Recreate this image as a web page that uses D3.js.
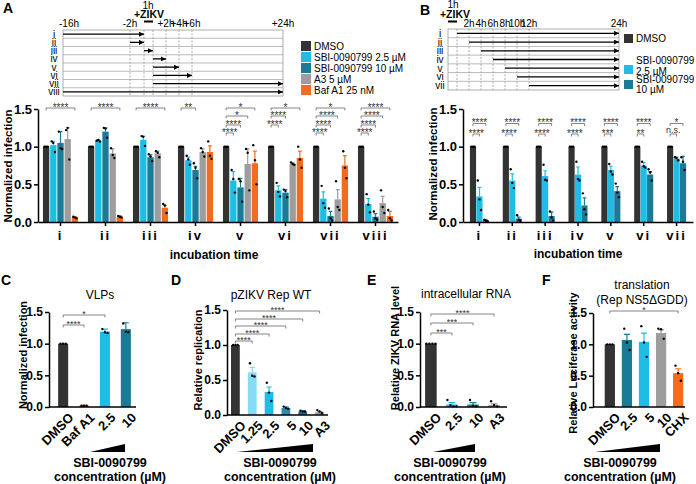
<!DOCTYPE html>
<html>
<head>
<meta charset="utf-8">
<script src="https://cdn.jsdelivr.net/npm/d3@7"></script>
<style>
body{margin:0;background:#fff}
svg{font-family:"Liberation Sans",Arial,sans-serif}
</style>
</head>
<body>
<svg width="696" height="484"></svg>
<script>
// ---- data ----
const groupsA = ["i","ii","iii","iv","v","vi","vii","viii"];
const treatA = ["DMSO","SBI-0090799 2.5 µM","SBI-0090799 10 µM","A3 5 µM","Baf A1 25 nM"];
const meanA = [
  [1,1.02,1.05,1.10,0.06],
  [1,1.08,1.20,0.91,0.07],
  [1,1.09,0.86,0.91,0.19],
  [1,0.82,0.69,0.93,0.93],
  [1,0.55,0.46,0.77,0.78],
  [1,0.42,0.39,0.77,0.85],
  [1,0.31,0.08,0.30,0.75],
  [1,0.24,0.07,0.25,0.08]];
const errA = [
  [0,0.05,0.15,0.15,0.01],
  [0,0.01,0.05,0.06,0.01],
  [0,0.05,0.03,0.03,0.03],
  [0,0.04,0.05,0.04,0.08],
  [0,0.12,0.12,0.20,0.16],
  [0,0.06,0.04,0.02,0.09],
  [0,0.09,0.06,0.13,0.13],
  [0,0.07,0.04,0.09,0.06]];
const ptsA = [
  [[1,1,1],[1.07,1.05,0.93],[1.20,0.98,0.97],[1.22,1.25,0.83],[0.07,0.06,0.05]],
  [[1,1,1],[1.08,1.09,1.07],[1.25,1.24,1.12],[0.98,0.89,0.85],[0.08,0.07,0.06]],
  [[1,1,1],[1.14,1.13,1.01],[0.90,0.87,0.81],[0.94,0.92,0.86],[0.24,0.22,0.12]],
  [[1,1,1],[0.88,0.83,0.76],[0.78,0.72,0.58],[0.98,0.93,0.87],[1.07,0.88,0.84]],
  [[1,1,1],[0.69,0.57,0.39],[0.57,0.54,0.27],[0.97,0.92,0.42],[1.02,0.82,0.50]],
  [[1,1,1],[0.52,0.40,0.34],[0.43,0.41,0.33],[0.79,0.77,0.76],[1.00,0.83,0.72]],
  [[1,1,1],[0.48,0.25,0.19],[0.18,0.05,0.02],[0.54,0.20,0.16],[0.94,0.72,0.58]],
  [[1,1,1],[0.37,0.23,0.13],[0.14,0.05,0.03],[0.42,0.20,0.12],[0.16,0.05,0.02]]];
// [group, target treatment, level, label]
const sigA = [
  [0,4,3,"****"],[1,4,3,"****"],[2,4,3,"****"],[3,2,3,"**"],
  [4,1,0,"****"],[4,2,1,"****"],[4,3,2,"*"],[4,4,3,"*"],
  [5,1,1,"****"],[5,2,2,"****"],[5,4,3,"*"],
  [6,1,0,"****"],[6,2,1,"****"],[6,3,2,"****"],[6,4,3,"*"],
  [7,1,0,"****"],[7,2,1,"****"],[7,3,2,"****"],[7,4,3,"****"]];
// timeline A (hours, schematic)
const tBreaksA = [-16,-2,0,1,3,5,7,25];
const tDashA = [-2,0,1,3,5,7];
const tTickA = [-16,-2,3,5,7,25];
const tLabA = ["-16h","-2h","+2h","+4h","+6h","+24h"];
const arrowsA = [[-16,0],[-2,0],[0,1],[1,3],[1,5],[1,7],[1,25],[-16,25]];
const infA = [0,1];

const groupsB = ["i","ii","iii","iv","v","vi","vii"];
const treatB = ["DMSO","SBI-0090799 2.5 µM","SBI-0090799 10 µM"];
const meanB = [[1,0.34,0.02],[1,0.55,0.045],[1,0.61,0.08],[1,0.63,0.22],[1,0.69,0.41],[1,0.75,0.63],[1,0.84,0.78]];
const errB = [[0,0.12,0.01],[0,0.09,0.02],[0,0.07,0.05],[0,0.10,0.10],[0,0.05,0.06],[0,0.04,0.04],[0,0.02,0.09]];
const ptsB = [
  [[1,1,1],[0.55,0.30,0.16],[0.03,0.02,0.01]],
  [[1,1,1],[0.70,0.52,0.45],[0.09,0.03,0.02]],
  [[1,1,1],[0.76,0.56,0.55],[0.14,0.06,0.02]],
  [[1,1,1],[0.80,0.57,0.55],[0.38,0.17,0.10]],
  [[1,1,1],[0.77,0.67,0.63],[0.51,0.39,0.33]],
  [[1,1,1],[0.80,0.74,0.72],[0.70,0.66,0.55]],
  [[1,1,1],[0.86,0.85,0.82],[0.86,0.80,0.69]]];
const sigBlow = ["****","****","****","****","***","**","n.s."];
const sigBhigh = ["****","****","****","****","****","****","*"];
const tBreaksB = [-1,0,12,24];
const tDashB = [0,2,4,6,8,10,12];
const tTickB = [2,4,6,8,10,12,24];
const arrowsB = [[0,24],[2,24],[4,24],[6,24],[8,24],[10,24],[12,24]];
const infB = [-1,0];

const catsC = ["DMSO","Baf A1","2.5","10"];
const meanC = [1,0.02,1.19,1.23];
const errC = [0,0.005,0.04,0.10];
const ptsC = [[1,1,1],[0.02,0.02,0.02],[1.23,1.18,1.17],[1.32,1.19,1.18]];
const sigC = [[1,0,"****"],[2,1,"*"]];

const catsD = ["DMSO","1.25","2.5","5","10","A3"];
const meanD = [1,0.61,0.33,0.10,0.05,0.04];
const errD = [0,0.07,0.07,0.015,0.01,0.01];
const ptsD = [[1,1,1],[0.74,0.56,0.55],[0.46,0.32,0.20],[0.12,0.10,0.09],[0.06,0.05,0.05],[0.07,0.05,0.03]];
const sigD = [[1,0,"****"],[2,1,"****"],[3,2,"****"],[4,3,"****"],[5,4,"****"]];

const catsE = ["DMSO","2.5","10","A3"];
const meanE = [1,0.04,0.04,0.03];
const errE = [0,0.03,0.03,0.02];
const ptsE = [[1,1,1,1],[0.11,0.03,0.01,0.01],[0.11,0.02,0.01],[0.09,0.03,0.01]];
const sigE = [[1,0,"***"],[2,1,"***"],[3,2,"****"]];

const catsF = ["DMSO","2.5","5","10","CHX"];
const meanF = [1,1.07,1.04,1.18,0.54];
const errF = [0,0.09,0.14,0.05,0.07];
const ptsF = [[1,1,1],[1.25,1.03,0.91],[1.29,1.03,0.80],[1.25,1.24,1.09],[0.66,0.54,0.42]];
const sigF = [[4,0,"*"]];

// ---- colours ----
const cDMSO = "#333333", cLo = "#1dbde6", cHi = "#1b7b96", cA3 = "#9d9d9d", cBaf = "#f36c1e";
const colA = [cDMSO,cLo,cHi,cA3,cBaf];
const colB = [cDMSO,cLo,cHi];
const colC = [cDMSO,cBaf,cLo,cHi];
const colD = [cDMSO,"#86dbf6",cLo,"#2a8cab","#1d6f88",cA3];
const colE = [cDMSO,cLo,cHi,cA3];
const colF = [cDMSO,cHi,cLo,cA3,cBaf];

const svg = d3.select("svg");
const defs = svg.append("defs");
defs.append("marker").attr("id","ah").attr("viewBox","0 0 10 10")
  .attr("refX",10).attr("refY",5).attr("markerWidth",6).attr("markerHeight",5)
  .attr("markerUnits","userSpaceOnUse").attr("orient","auto")
  .append("path").attr("d","M0,0L10,5L0,10z").attr("fill","#000");

function txt(g, x, y, s, o) {
  o = o || {};
  return g.append("text").attr("x",x).attr("y",y).text(s)
    .attr("font-size",o.fs||11).attr("font-weight",o.fw||"normal")
    .attr("text-anchor",o.anchor||"middle").attr("fill",o.fill||"#000");
}

function yAxis(g, y, x0, fs) {
  g.append("g").attr("transform",`translate(${x0},0)`)
    .call(d3.axisLeft(y).tickValues([0,0.5,1,1.5]).tickFormat(d3.format(".1f")).tickSize(4).tickSizeOuter(0).tickPadding(2))
    .call(a => {
      a.attr("font-family",null);
      a.selectAll("text").attr("font-size",fs).attr("font-weight","bold").attr("fill","#000");
      a.selectAll("path,line").attr("stroke","#000").attr("stroke-width",1.5);
    });
}

function yTitle(g, x, y, s, fs) {
  g.append("text").attr("transform",`translate(${x},${y}) rotate(-90)`).attr("dy","0.35em")
    .attr("text-anchor","middle").attr("font-size",fs).attr("font-weight","bold").text(s);
}

function drawBars(g, items, y) {
  g.selectAll(null).data(items).join("rect")
    .attr("x",d=>d.x).attr("width",d=>d.w)
    .attr("y",d=>y(d.mean)).attr("height",d=>y(0)-y(d.mean))
    .attr("fill",d=>d.color);
  g.selectAll(null).data(items.filter(d=>d.err>0)).join("path")
    .attr("d",d=>{
      const cx=d.x+d.w/2, cw=Math.max(1.5,d.w*0.3), t=y(d.mean+d.err);
      return `M${cx},${y(d.mean)}V${t}M${cx-cw},${t}H${cx+cw}`;
    })
    .attr("stroke",d=>d.color).attr("stroke-width",1.2).attr("fill","none");
  items.forEach(d=>{
    const n=d.pts.length;
    g.selectAll(null).data(d.pts).join("circle")
      .attr("cx",(v,i)=>d.x+d.w/2+(i-(n-1)/2)*d.w*0.26)
      .attr("cy",v=>y(v)).attr("r",1.2).attr("fill","#000");
  });
}

function bracket(g, x1, x2, yy, label, fs) {
  g.append("path").attr("d",`M${x1},${yy+2.5}V${yy}H${x2}V${yy+2.5}`)
    .attr("stroke","#666").attr("stroke-width",0.8).attr("fill","none");
  const ns = label.indexOf("*") < 0;
  txt(g,(x1+x2)/2, ns ? yy-1.5 : yy+0.27*fs, label, {fs: ns?fs-1:fs, fill:"#333"});
}

// ---- panel letters ----
[["A",3,13],["B",420,15],["C",1,285],["D",171,285],["E",367,285],["F",542,285]]
  .forEach(p=>txt(svg,p[1],p[2],p[0],{fs:14,fw:"bold",anchor:"start"}));

// ================= Panel A =================
const gA = svg.append("g");
const yA = d3.scaleLinear().domain([0,1.5]).range([222,109]);
const xA = d3.scaleBand().domain(groupsA).range([38,398]).paddingInner(0.22).paddingOuter(0.11);
const sA = d3.scaleBand().domain(treatA).range([0,xA.bandwidth()]).paddingInner(0.12);
const itemsA = [];
groupsA.forEach((g,gi)=>treatA.forEach((t,ti)=>itemsA.push({
  x:xA(g)+sA(t), w:sA.bandwidth(), mean:meanA[gi][ti], err:errA[gi][ti], pts:ptsA[gi][ti], color:colA[ti]})));
drawBars(gA, itemsA, yA);
yAxis(gA, yA, 38, 13);
gA.append("g").attr("transform","translate(0,222)")
  .call(d3.axisBottom(xA).tickSize(4).tickSizeOuter(0).tickPadding(5))
  .call(a=>{
    a.attr("font-family",null);
    a.selectAll("text").attr("font-size",13).attr("font-weight","bold").attr("fill","#000").attr("letter-spacing",2);
    a.selectAll("path,line").attr("stroke","#000").attr("stroke-width",1.5);
  });
yTitle(gA, 8, 166, "Normalized infection", 11.5);
txt(gA, 214, 259, "incubation time", {fs:12, fw:"bold"});
const lvA = [133,125,116,108];
sigA.forEach(s=>{
  const g = groupsA[s[0]];
  bracket(gA, xA(g)+sA(treatA[0])+sA.bandwidth()/2, xA(g)+sA(treatA[s[1]])+sA.bandwidth()/2, lvA[s[2]], s[3], 10);
});

// timeline A
const tA = d3.scaleLinear().domain(tBreaksA).range([63,130,144,153,166,179,192,283]);
const rA = d3.scaleBand().domain(groupsA).range([30,96]);
const tlA = svg.append("g");
tlA.selectAll(null).data(groupsA.slice(1)).join("line")
  .attr("x1",tA(-16)).attr("x2",tA(25)).attr("y1",d=>rA(d)).attr("y2",d=>rA(d))
  .attr("stroke","#aaa").attr("stroke-width",0.8);
tlA.selectAll(null).data(tDashA).join("line")
  .attr("x1",d=>tA(d)).attr("x2",d=>tA(d)).attr("y1",30).attr("y2",96)
  .attr("stroke","#999").attr("stroke-width",0.8).attr("stroke-dasharray","2,1.5");
tlA.append("rect").attr("x",tA(-16)).attr("y",30).attr("width",tA(25)-tA(-16)).attr("height",66)
  .attr("fill","none").attr("stroke","#999").attr("stroke-width",0.8);
tlA.selectAll(null).data(arrowsA).join("line")
  .attr("x1",d=>tA(d[0])).attr("x2",d=>tA(d[1]))
  .attr("y1",(d,i)=>rA(groupsA[i])+rA.bandwidth()/2).attr("y2",(d,i)=>rA(groupsA[i])+rA.bandwidth()/2)
  .attr("stroke","#000").attr("stroke-width",1.3).attr("marker-end","url(#ah)");
groupsA.forEach(g=>txt(tlA, 54, rA(g)+rA.bandwidth()/2+3.5, g, {fs:10}));
tTickA.forEach((t,i)=>txt(tlA, i===0 ? tA(t)-4 : tA(t), 27, tLabA[i], {fs:10, anchor: i===0?"start":"middle"}));
txt(tlA, 148, 8.5, "1h", {fs:10});
txt(tlA, 149, 18, "+ZIKV", {fs:10.5, fw:"bold"});
tlA.append("line").attr("x1",tA(infA[0])).attr("x2",tA(infA[1])).attr("y1",21.5).attr("y2",21.5)
  .attr("stroke","#000").attr("stroke-width",2);
// legend A
treatA.forEach((t,i)=>{
  tlA.append("rect").attr("x",301).attr("y",41+i*11).attr("width",10).attr("height",10).attr("fill",colA[i]);
  txt(tlA, 314, 50+i*11, t, {fs:10, anchor:"start"});
});

// ================= Panel B =================
const gB = svg.append("g");
const yB = d3.scaleLinear().domain([0,1.5]).range([222,109]);
const xB = d3.scaleBand().domain(groupsB).range([463,693]).paddingInner(0.42).paddingOuter(0.21);
const sB = d3.scaleBand().domain(treatB).range([0,xB.bandwidth()]).paddingInner(0.04);
const itemsB = [];
groupsB.forEach((g,gi)=>treatB.forEach((t,ti)=>itemsB.push({
  x:xB(g)+sB(t), w:sB.bandwidth(), mean:meanB[gi][ti], err:errB[gi][ti], pts:ptsB[gi][ti], color:colB[ti]})));
drawBars(gB, itemsB, yB);
yAxis(gB, yB, 463, 13);
gB.append("g").attr("transform","translate(0,222)")
  .call(d3.axisBottom(xB).tickSize(4).tickSizeOuter(0).tickPadding(5))
  .call(a=>{
    a.attr("font-family",null);
    a.selectAll("text").attr("font-size",13).attr("font-weight","bold").attr("fill","#000").attr("letter-spacing",2);
    a.selectAll("path,line").attr("stroke","#000").attr("stroke-width",1.5);
  });
yTitle(gB, 433, 164, "Normalized infection", 11.5);
txt(gB, 578, 258, "incubation time", {fs:12, fw:"bold"});
groupsB.forEach((g,gi)=>{
  const c = t=>xB(g)+sB(t)+sB.bandwidth()/2;
  bracket(gB, c(treatB[0]), c(treatB[1]), 134, sigBlow[gi], 10);
  bracket(gB, c(treatB[0]), c(treatB[2]), 123.5, sigBhigh[gi], 10);
});

// timeline B
const tB = d3.scaleLinear().domain(tBreaksB).range([448,457,529,619]);
const rB = d3.scaleBand().domain(groupsB).range([29,90]);
const tlB = svg.append("g");
tlB.selectAll(null).data(groupsB.slice(1)).join("line")
  .attr("x1",tB(-1)).attr("x2",tB(24)).attr("y1",d=>rB(d)).attr("y2",d=>rB(d))
  .attr("stroke","#aaa").attr("stroke-width",0.8);
tlB.selectAll(null).data(tDashB).join("line")
  .attr("x1",d=>tB(d)).attr("x2",d=>tB(d)).attr("y1",29).attr("y2",90)
  .attr("stroke","#999").attr("stroke-width",0.8).attr("stroke-dasharray","2,1.5");
tlB.append("rect").attr("x",tB(-1)).attr("y",29).attr("width",tB(24)-tB(-1)).attr("height",61)
  .attr("fill","none").attr("stroke","#999").attr("stroke-width",0.8);
tlB.selectAll(null).data(arrowsB).join("line")
  .attr("x1",d=>tB(d[0])).attr("x2",d=>tB(d[1]))
  .attr("y1",(d,i)=>rB(groupsB[i])+rB.bandwidth()/2).attr("y2",(d,i)=>rB(groupsB[i])+rB.bandwidth()/2)
  .attr("stroke","#000").attr("stroke-width",1.3).attr("marker-end","url(#ah)");
groupsB.forEach(g=>txt(tlB, 440, rB(g)+rB.bandwidth()/2+3.5, g, {fs:10}));
tTickB.forEach(t=>txt(tlB, tB(t), 27, t+"h", {fs:10}));
txt(tlB, 453, 8, "1h", {fs:10});
txt(tlB, 455, 17.5, "+ZIKV", {fs:10.5, fw:"bold"});
tlB.append("line").attr("x1",tB(infB[0])).attr("x2",tB(infB[1])).attr("y1",21.5).attr("y2",21.5)
  .attr("stroke","#000").attr("stroke-width",2);
// legend B
tlB.append("rect").attr("x",624).attr("y",34).attr("width",9).attr("height",9).attr("fill",colB[0]);
tlB.append("rect").attr("x",624).attr("y",65).attr("width",9).attr("height",9).attr("fill",colB[1]);
tlB.append("rect").attr("x",624).attr("y",80).attr("width",9).attr("height",9).attr("fill",colB[2]);
txt(tlB, 636, 42, treatB[0], {fs:10, anchor:"start"});
txt(tlB, 636, 64, "SBI-0090799", {fs:10, anchor:"start"});
txt(tlB, 636, 74.5, "2.5 µM", {fs:10, anchor:"start"});
txt(tlB, 636, 82.5, "SBI-0090799", {fs:10, anchor:"start"});
txt(tlB, 636, 93, "10 µM", {fs:10, anchor:"start"});

// ================= Panels C-F =================
function simplePanel(o) {
  const g = svg.append("g");
  const y = d3.scaleLinear().domain([0,1.5]).range(o.yr);
  const x = d3.scaleBand().domain(o.cats).range(o.xr).paddingInner(o.pi).paddingOuter(o.po);
  const items = o.cats.map((c,i)=>({x:x(c), w:x.bandwidth(), mean:o.mean[i], err:o.err[i], pts:o.pts[i], color:o.cols[i]}));
  drawBars(g, items, y);
  yAxis(g, y, o.ax, 12);
  g.append("line").attr("x1",o.ax).attr("x2",o.axEnd).attr("y1",y(0)).attr("y2",y(0))
    .attr("stroke","#000").attr("stroke-width",1.5);
  o.cats.forEach(c=>{
    g.append("text").attr("transform",`translate(${x(c)+x.bandwidth()/2+4},${y(0)+4}) rotate(-45)`)
      .attr("dy","0.8em").attr("text-anchor","end").attr("font-size",13).attr("font-weight","bold").text(c);
  });
  const cx = c=>x(c)+x.bandwidth()/2;
  o.sig.forEach(s=>bracket(g, cx(o.cats[0]), cx(o.cats[s[0]]), o.sigY[s[1]], s[2], 9));
  yTitle(g, o.ytx, o.yty, o.ytitle, 11);
  o.title.forEach((t,i)=>txt(g, o.tx, o.ty+i*15, t, {fs:12}));
  g.append("path").attr("d",`M${o.wedge[0]},452L${o.wedge[1]},444L${o.wedge[1]},452Z`).attr("fill","#000");
  txt(g, o.bx, 467, "SBI-0090799", {fs:12.5, fw:"bold"});
  txt(g, o.bx, 481, "concentration (µM)", {fs:12.5, fw:"bold"});
}

simplePanel({cats:catsC, mean:meanC, err:errC, pts:ptsC, cols:colC, sig:sigC,
  yr:[407,312], xr:[55,134], pi:0.52, po:0.15, ax:49, axEnd:136,
  sigY:[325,315], ytitle:"Normalized infection", ytx:23, yty:355,
  title:["VLPs"], tx:100, ty:299, bx:110, wedge:[90,125]});
simplePanel({cats:catsD, mean:meanD, err:errD, pts:ptsD, cols:colD, sig:sigD,
  yr:[415,310], xr:[229,326], pi:0.48, po:0.12, ax:227, axEnd:328,
  sigY:[341,334,326,319,311], ytitle:"Relative replication", ytx:198, yty:360,
  title:["pZIKV Rep WT"], tx:271, ty:299, bx:280, wedge:[237,313]});
simplePanel({cats:catsE, mean:meanE, err:errE, pts:ptsE, cols:colE, sig:sigE,
  yr:[407,312], xr:[423,502], pi:0.45, po:0.1, ax:420, axEnd:507,
  sigY:[333,323,314], ytitle:"Relative ZIKV RNA level", ytx:395, yty:348,
  title:["intracellular RNA"], tx:466, ty:298, bx:450, wedge:[433,475]});
simplePanel({cats:catsF, mean:meanF, err:errF, pts:ptsF, cols:colF, sig:sigF,
  yr:[407,313], xr:[603,685], pi:0.4, po:0.1, ax:593, axEnd:685,
  sigY:[311], ytitle:"Relative Luciferase activity", ytx:573, yty:363,
  title:["translation","(Rep NS5ΔGDD)"], tx:642, ty:289, bx:620, wedge:[595,660]});
</script>
</body>
</html>
